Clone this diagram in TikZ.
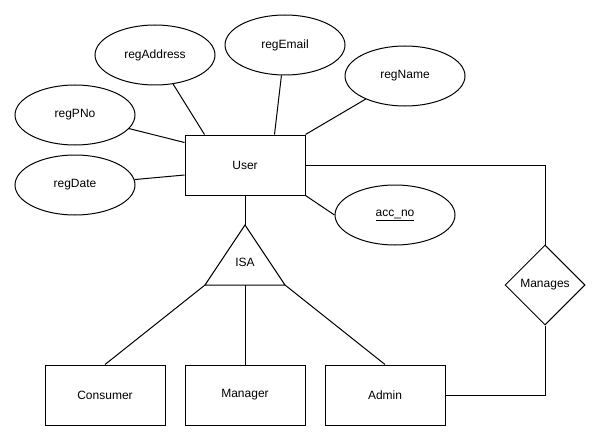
\documentclass[tikz,border=0pt]{standalone}
\usepackage{fontspec}
\setmainfont{Liberation Sans}
\usetikzlibrary{shapes.geometric,
                positioning}

\tikzset{
  entity/.style={draw, rectangle, minimum width=120pt, minimum height=60pt, inner sep=0pt},
  attr/.style={draw, ellipse, minimum width=120pt, minimum height=60pt, inner sep=0pt},
  rel/.style={draw, diamond, minimum width=80pt, minimum height=80pt, inner sep=0pt},
}

\begin{document}
\begin{tikzpicture}[x=1pt, y=-1pt, line width=1pt, font=\fontsize{12}{14}\selectfont]
\useasboundingbox (0,0) rectangle (601,441);
% entities
\node[entity] (user) at (245,165) {User};
\node[entity] (consumer) at (105,395) {Consumer};
\node[entity] (manager) at (245,395) {Manager};
\node[entity] (admin) at (385,395) {Admin};
% attributes
\node[attr] (regAddress) at (155,55) {regAddress};
\node[attr] (regEmail) at (285,45) {regEmail};
\node[attr] (regName) at (405,76) {regName};
\node[attr] (regPNo) at (75,115) {regPNo};
\node[attr] (regDate) at (75,185) {regDate};
\node[attr] (accNo) at (395,215) {\underline{acc\_no}};
% relationship
\node[rel] (manages) at (545,285) {Manages};
% isa triangle
\coordinate (isaTop) at (245,225);
\coordinate (isaLeft) at (205,285);
\coordinate (isaRight) at (285,285);
\draw (isaTop) -- (isaLeft) -- (isaRight) -- cycle;
\node (isa) at (245,262) {ISA};
% attribute links
\draw (regAddress) -- ([xshift=20pt]user.north west);
\draw (regEmail) -- ([xshift=90pt]user.north west);
\draw (regName) -- (user.north east);
\draw (regPNo) -- ([yshift=-8pt]user.north west);
\draw (regDate) -- ([yshift=-10pt]user.west);
\draw (user.south east) -- (accNo.west);
% isa links
\draw (user.south) -- (isaTop);
\draw (isaLeft) -- (consumer.north);
\draw (isa |- isaLeft) -- (manager.north);
\draw (isaRight) -- (admin.north);
% manages links
\draw (user.east) -| (manages.north);
\draw (manages.south) |- (admin.east);
\end{tikzpicture}
\end{document}
